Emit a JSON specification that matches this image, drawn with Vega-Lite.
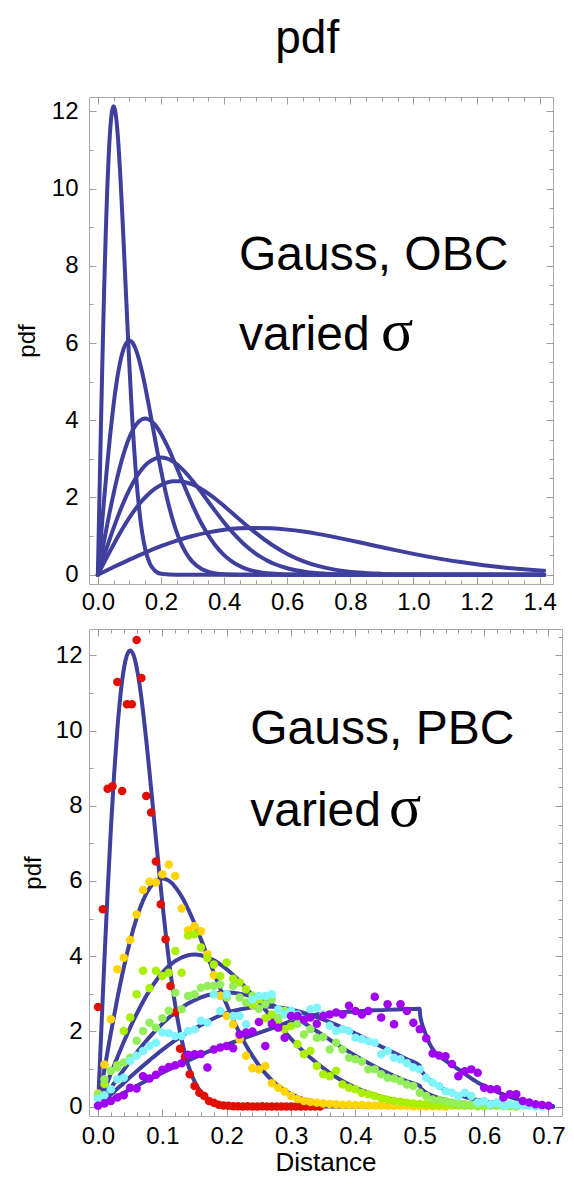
{
"$schema":"https://vega.github.io/schema/vega-lite/v6.json",
"background":"white",
"padding":{"left":14,"top":16,"right":0,"bottom":0},
"title":{"text":"pdf","fontSize":46,"font":"Liberation Sans","fontWeight":"normal","color":"#000000","anchor":"middle","offset":33,"dx":17},
"config":{
 "view":{"stroke":"#a9a9a9","strokeWidth":1},
 "axis":{"domain":false,"grid":false,"tickColor":"#9c9c9c","tickWidth":1,"labelFont":"Liberation Sans","labelFontSize":24,"labelColor":"#000000","titleFont":"Liberation Sans","titleFontSize":24,"titleFontWeight":"normal","titleColor":"#000000","labelOverlap":false,"labelFlush":false,"labelBound":false},
 "text":{"font":"Liberation Sans"}
},
"datasets":{
"obc":[
{"s":"a","x":0,"y":0},{"s":"a","x":0.005,"y":1.99},{"s":"a","x":0.01,"y":3.921},{"s":"a","x":0.015,"y":5.737},{"s":"a","x":0.02,"y":7.385},{"s":"a","x":0.025,"y":8.825},{"s":"a","x":0.03,"y":10.023},{"s":"a","x":0.035,"y":10.958},{"s":"a","x":0.04,"y":11.618},{"s":"a","x":0.045,"y":12.006},{"s":"a","x":0.05,"y":12.131},{"s":"a","x":0.055,"y":12.014},{"s":"a","x":0.06,"y":11.682},{"s":"a","x":0.065,"y":11.17},{"s":"a","x":0.07,"y":10.509},{"s":"a","x":0.075,"y":9.74},{"s":"a","x":0.08,"y":8.897},{"s":"a","x":0.085,"y":8.016},{"s":"a","x":0.09,"y":7.124},{"s":"a","x":0.095,"y":6.25},{"s":"a","x":0.1,"y":5.413},{"s":"a","x":0.105,"y":4.632},{"s":"a","x":0.11,"y":3.913},{"s":"a","x":0.115,"y":3.266},{"s":"a","x":0.12,"y":2.694},{"s":"a","x":0.125,"y":2.196},{"s":"a","x":0.13,"y":1.77},{"s":"a","x":0.14,"y":1.111},{"s":"a","x":0.15,"y":0.667},{"s":"a","x":0.165,"y":0.285},{"s":"a","x":0.18,"y":0.11},{"s":"a","x":0.2,"y":0.027},{"s":"a","x":0.25,"y":0},{"s":"a","x":1.414,"y":0},
{"s":"b","x":0,"y":0},{"s":"b","x":0.01,"y":0.995},{"s":"b","x":0.02,"y":1.96},{"s":"b","x":0.03,"y":2.869},{"s":"b","x":0.04,"y":3.693},{"s":"b","x":0.05,"y":4.412},{"s":"b","x":0.06,"y":5.012},{"s":"b","x":0.07,"y":5.48},{"s":"b","x":0.08,"y":5.809},{"s":"b","x":0.09,"y":6.0},{"s":"b","x":0.1,"y":6.065},{"s":"b","x":0.11,"y":6.007},{"s":"b","x":0.12,"y":5.841},{"s":"b","x":0.13,"y":5.585},{"s":"b","x":0.14,"y":5.254},{"s":"b","x":0.15,"y":4.87},{"s":"b","x":0.16,"y":4.449},{"s":"b","x":0.17,"y":4.008},{"s":"b","x":0.18,"y":3.562},{"s":"b","x":0.19,"y":3.125},{"s":"b","x":0.2,"y":2.707},{"s":"b","x":0.21,"y":2.316},{"s":"b","x":0.22,"y":1.956},{"s":"b","x":0.23,"y":1.633},{"s":"b","x":0.24,"y":1.347},{"s":"b","x":0.25,"y":1.098},{"s":"b","x":0.26,"y":0.883},{"s":"b","x":0.27,"y":0.705},{"s":"b","x":0.28,"y":0.556},{"s":"b","x":0.29,"y":0.433},{"s":"b","x":0.3,"y":0.333},{"s":"b","x":0.33,"y":0.143},{"s":"b","x":0.36,"y":0.055},{"s":"b","x":0.4,"y":0.013},{"s":"b","x":0.5,"y":0},{"s":"b","x":1.414,"y":0},
{"s":"c","x":0,"y":0},{"s":"c","x":0.02,"y":0.881},{"s":"c","x":0.04,"y":1.716},{"s":"c","x":0.06,"y":2.462},{"s":"c","x":0.08,"y":3.084},{"s":"c","x":0.1,"y":3.561},{"s":"c","x":0.12,"y":3.873},{"s":"c","x":0.14,"y":4.026},{"s":"c","x":0.15,"y":4.044},{"s":"c","x":0.16,"y":4.026},{"s":"c","x":0.18,"y":3.894},{"s":"c","x":0.2,"y":3.653},{"s":"c","x":0.22,"y":3.334},{"s":"c","x":0.24,"y":2.966},{"s":"c","x":0.26,"y":2.573},{"s":"c","x":0.28,"y":2.181},{"s":"c","x":0.3,"y":1.804},{"s":"c","x":0.32,"y":1.456},{"s":"c","x":0.34,"y":1.158},{"s":"c","x":0.36,"y":0.898},{"s":"c","x":0.38,"y":0.682},{"s":"c","x":0.4,"y":0.508},{"s":"c","x":0.42,"y":0.37},{"s":"c","x":0.44,"y":0.265},{"s":"c","x":0.46,"y":0.186},{"s":"c","x":0.48,"y":0.127},{"s":"c","x":0.5,"y":0.086},{"s":"c","x":0.55,"y":0.029},{"s":"c","x":0.6,"y":0.009},{"s":"c","x":0.7,"y":0},{"s":"c","x":1.414,"y":0},
{"s":"d","x":0,"y":0},{"s":"d","x":0.02,"y":0.498},{"s":"d","x":0.04,"y":0.98},{"s":"d","x":0.06,"y":1.434},{"s":"d","x":0.08,"y":1.846},{"s":"d","x":0.1,"y":2.206},{"s":"d","x":0.12,"y":2.506},{"s":"d","x":0.14,"y":2.739},{"s":"d","x":0.16,"y":2.905},{"s":"d","x":0.18,"y":3.001},{"s":"d","x":0.2,"y":3.033},{"s":"d","x":0.22,"y":3.004},{"s":"d","x":0.24,"y":2.921},{"s":"d","x":0.26,"y":2.793},{"s":"d","x":0.28,"y":2.627},{"s":"d","x":0.3,"y":2.435},{"s":"d","x":0.32,"y":2.224},{"s":"d","x":0.34,"y":2.004},{"s":"d","x":0.36,"y":1.781},{"s":"d","x":0.38,"y":1.562},{"s":"d","x":0.4,"y":1.353},{"s":"d","x":0.42,"y":1.157},{"s":"d","x":0.44,"y":0.978},{"s":"d","x":0.46,"y":0.817},{"s":"d","x":0.48,"y":0.674},{"s":"d","x":0.5,"y":0.549},{"s":"d","x":0.52,"y":0.443},{"s":"d","x":0.54,"y":0.353},{"s":"d","x":0.56,"y":0.278},{"s":"d","x":0.6,"y":0.167},{"s":"d","x":0.66,"y":0.071},{"s":"d","x":0.72,"y":0.028},{"s":"d","x":0.8,"y":0.007},{"s":"d","x":1.0,"y":0},{"s":"d","x":1.414,"y":0},
{"s":"e","x":0,"y":0},{"s":"e","x":0.02,"y":0.319},{"s":"e","x":0.04,"y":0.632},{"s":"e","x":0.06,"y":0.933},{"s":"e","x":0.08,"y":1.216},{"s":"e","x":0.1,"y":1.477},{"s":"e","x":0.12,"y":1.711},{"s":"e","x":0.14,"y":1.915},{"s":"e","x":0.16,"y":2.086},{"s":"e","x":0.18,"y":2.223},{"s":"e","x":0.2,"y":2.324},{"s":"e","x":0.22,"y":2.391},{"s":"e","x":0.24,"y":2.423},{"s":"e","x":0.26,"y":2.421},{"s":"e","x":0.28,"y":2.388},{"s":"e","x":0.3,"y":2.337},{"s":"e","x":0.32,"y":2.257},{"s":"e","x":0.34,"y":2.156},{"s":"e","x":0.36,"y":2.042},{"s":"e","x":0.38,"y":1.915},{"s":"e","x":0.4,"y":1.779},{"s":"e","x":0.42,"y":1.637},{"s":"e","x":0.44,"y":1.493},{"s":"e","x":0.46,"y":1.352},{"s":"e","x":0.48,"y":1.215},{"s":"e","x":0.5,"y":1.083},{"s":"e","x":0.55,"y":0.783},{"s":"e","x":0.6,"y":0.539},{"s":"e","x":0.65,"y":0.354},{"s":"e","x":0.7,"y":0.222},{"s":"e","x":0.75,"y":0.133},{"s":"e","x":0.825,"y":0.057},{"s":"e","x":0.9,"y":0.022},{"s":"e","x":1.0,"y":0.005},{"s":"e","x":1.25,"y":0},{"s":"e","x":1.414,"y":0},
{"s":"f","x":0,"y":0},{"s":"f","x":0.05,"y":0.199},{"s":"f","x":0.1,"y":0.392},{"s":"f","x":0.15,"y":0.574},{"s":"f","x":0.2,"y":0.738},{"s":"f","x":0.25,"y":0.883},{"s":"f","x":0.3,"y":1.002},{"s":"f","x":0.35,"y":1.096},{"s":"f","x":0.4,"y":1.162},{"s":"f","x":0.45,"y":1.201},{"s":"f","x":0.5,"y":1.213},{"s":"f","x":0.55,"y":1.201},{"s":"f","x":0.6,"y":1.168},{"s":"f","x":0.65,"y":1.117},{"s":"f","x":0.7,"y":1.051},{"s":"f","x":0.75,"y":0.974},{"s":"f","x":0.8,"y":0.89},{"s":"f","x":0.85,"y":0.801},{"s":"f","x":0.9,"y":0.712},{"s":"f","x":0.95,"y":0.625},{"s":"f","x":1.0,"y":0.541},{"s":"f","x":1.05,"y":0.463},{"s":"f","x":1.1,"y":0.391},{"s":"f","x":1.15,"y":0.327},{"s":"f","x":1.2,"y":0.269},{"s":"f","x":1.25,"y":0.22},{"s":"f","x":1.3,"y":0.177},{"s":"f","x":1.35,"y":0.141},{"s":"f","x":1.4,"y":0.111},{"s":"f","x":1.414,"y":0.104}
],
"pbc":[
{"s":"a","x":0,"y":0},{"s":"a","x":0.005,"y":1.99},{"s":"a","x":0.01,"y":3.921},{"s":"a","x":0.015,"y":5.737},{"s":"a","x":0.02,"y":7.385},{"s":"a","x":0.025,"y":8.825},{"s":"a","x":0.03,"y":10.023},{"s":"a","x":0.035,"y":10.958},{"s":"a","x":0.04,"y":11.618},{"s":"a","x":0.045,"y":12.006},{"s":"a","x":0.05,"y":12.131},{"s":"a","x":0.055,"y":12.014},{"s":"a","x":0.06,"y":11.682},{"s":"a","x":0.065,"y":11.17},{"s":"a","x":0.07,"y":10.509},{"s":"a","x":0.075,"y":9.74},{"s":"a","x":0.08,"y":8.897},{"s":"a","x":0.085,"y":8.016},{"s":"a","x":0.09,"y":7.124},{"s":"a","x":0.095,"y":6.25},{"s":"a","x":0.1,"y":5.413},{"s":"a","x":0.105,"y":4.632},{"s":"a","x":0.11,"y":3.913},{"s":"a","x":0.115,"y":3.266},{"s":"a","x":0.12,"y":2.694},{"s":"a","x":0.125,"y":2.196},{"s":"a","x":0.13,"y":1.77},{"s":"a","x":0.14,"y":1.111},{"s":"a","x":0.15,"y":0.667},{"s":"a","x":0.165,"y":0.285},{"s":"a","x":0.18,"y":0.11},{"s":"a","x":0.2,"y":0.027},{"s":"a","x":0.25,"y":0},{"s":"a","x":0.707,"y":0},
{"s":"b","x":0,"y":0},{"s":"b","x":0.01,"y":0.995},{"s":"b","x":0.02,"y":1.96},{"s":"b","x":0.03,"y":2.869},{"s":"b","x":0.04,"y":3.693},{"s":"b","x":0.05,"y":4.412},{"s":"b","x":0.06,"y":5.012},{"s":"b","x":0.07,"y":5.48},{"s":"b","x":0.08,"y":5.809},{"s":"b","x":0.09,"y":6.0},{"s":"b","x":0.1,"y":6.065},{"s":"b","x":0.11,"y":6.007},{"s":"b","x":0.12,"y":5.841},{"s":"b","x":0.13,"y":5.585},{"s":"b","x":0.14,"y":5.254},{"s":"b","x":0.15,"y":4.87},{"s":"b","x":0.16,"y":4.449},{"s":"b","x":0.17,"y":4.008},{"s":"b","x":0.18,"y":3.562},{"s":"b","x":0.19,"y":3.125},{"s":"b","x":0.2,"y":2.707},{"s":"b","x":0.21,"y":2.316},{"s":"b","x":0.22,"y":1.956},{"s":"b","x":0.23,"y":1.633},{"s":"b","x":0.24,"y":1.347},{"s":"b","x":0.25,"y":1.098},{"s":"b","x":0.26,"y":0.883},{"s":"b","x":0.27,"y":0.705},{"s":"b","x":0.28,"y":0.556},{"s":"b","x":0.29,"y":0.433},{"s":"b","x":0.3,"y":0.333},{"s":"b","x":0.33,"y":0.143},{"s":"b","x":0.36,"y":0.055},{"s":"b","x":0.4,"y":0.013},{"s":"b","x":0.5,"y":0},{"s":"b","x":0.707,"y":0},
{"s":"c","x":0,"y":0},{"s":"c","x":0.02,"y":0.881},{"s":"c","x":0.04,"y":1.716},{"s":"c","x":0.06,"y":2.462},{"s":"c","x":0.08,"y":3.084},{"s":"c","x":0.1,"y":3.561},{"s":"c","x":0.12,"y":3.873},{"s":"c","x":0.14,"y":4.026},{"s":"c","x":0.15,"y":4.044},{"s":"c","x":0.16,"y":4.026},{"s":"c","x":0.18,"y":3.894},{"s":"c","x":0.2,"y":3.653},{"s":"c","x":0.22,"y":3.334},{"s":"c","x":0.24,"y":2.966},{"s":"c","x":0.26,"y":2.573},{"s":"c","x":0.28,"y":2.181},{"s":"c","x":0.3,"y":1.804},{"s":"c","x":0.32,"y":1.456},{"s":"c","x":0.34,"y":1.158},{"s":"c","x":0.36,"y":0.898},{"s":"c","x":0.38,"y":0.682},{"s":"c","x":0.4,"y":0.508},{"s":"c","x":0.42,"y":0.37},{"s":"c","x":0.44,"y":0.265},{"s":"c","x":0.46,"y":0.186},{"s":"c","x":0.48,"y":0.127},{"s":"c","x":0.5,"y":0.086},{"s":"c","x":0.55,"y":0.029},{"s":"c","x":0.6,"y":0.009},{"s":"c","x":0.707,"y":0},
{"s":"d","x":0,"y":0},{"s":"d","x":0.02,"y":0.498},{"s":"d","x":0.04,"y":0.98},{"s":"d","x":0.06,"y":1.434},{"s":"d","x":0.08,"y":1.846},{"s":"d","x":0.1,"y":2.206},{"s":"d","x":0.12,"y":2.506},{"s":"d","x":0.14,"y":2.739},{"s":"d","x":0.16,"y":2.905},{"s":"d","x":0.18,"y":3.001},{"s":"d","x":0.2,"y":3.033},{"s":"d","x":0.22,"y":3.004},{"s":"d","x":0.24,"y":2.921},{"s":"d","x":0.26,"y":2.793},{"s":"d","x":0.28,"y":2.627},{"s":"d","x":0.3,"y":2.435},{"s":"d","x":0.32,"y":2.224},{"s":"d","x":0.34,"y":2.004},{"s":"d","x":0.36,"y":1.781},{"s":"d","x":0.38,"y":1.562},{"s":"d","x":0.4,"y":1.353},{"s":"d","x":0.42,"y":1.157},{"s":"d","x":0.44,"y":0.978},{"s":"d","x":0.46,"y":0.817},{"s":"d","x":0.48,"y":0.674},{"s":"d","x":0.5,"y":0.549},{"s":"d","x":0.502,"y":0.479},{"s":"d","x":0.505,"y":0.435},{"s":"d","x":0.51,"y":0.369},{"s":"d","x":0.52,"y":0.286},{"s":"d","x":0.53,"y":0.225},{"s":"d","x":0.54,"y":0.178},{"s":"d","x":0.56,"y":0.113},{"s":"d","x":0.58,"y":0.07},{"s":"d","x":0.6,"y":0.042},{"s":"d","x":0.64,"y":0.014},{"s":"d","x":0.68,"y":0.003},{"s":"d","x":0.707,"y":0},
{"s":"e","x":0,"y":0},{"s":"e","x":0.02,"y":0.32},{"s":"e","x":0.04,"y":0.63},{"s":"e","x":0.06,"y":0.94},{"s":"e","x":0.08,"y":1.23},{"s":"e","x":0.1,"y":1.51},{"s":"e","x":0.12,"y":1.76},{"s":"e","x":0.14,"y":1.98},{"s":"e","x":0.16,"y":2.17},{"s":"e","x":0.18,"y":2.35},{"s":"e","x":0.2,"y":2.49},{"s":"e","x":0.22,"y":2.58},{"s":"e","x":0.24,"y":2.64},{"s":"e","x":0.26,"y":2.66},{"s":"e","x":0.28,"y":2.64},{"s":"e","x":0.3,"y":2.58},{"s":"e","x":0.32,"y":2.49},{"s":"e","x":0.34,"y":2.38},{"s":"e","x":0.36,"y":2.25},{"s":"e","x":0.38,"y":2.1},{"s":"e","x":0.4,"y":1.94},{"s":"e","x":0.42,"y":1.77},{"s":"e","x":0.44,"y":1.6},{"s":"e","x":0.46,"y":1.43},{"s":"e","x":0.48,"y":1.26},{"s":"e","x":0.5,"y":1.09},{"s":"e","x":0.502,"y":0.965},{"s":"e","x":0.505,"y":0.895},{"s":"e","x":0.51,"y":0.79},{"s":"e","x":0.52,"y":0.64},{"s":"e","x":0.53,"y":0.53},{"s":"e","x":0.54,"y":0.44},{"s":"e","x":0.55,"y":0.37},{"s":"e","x":0.56,"y":0.31},{"s":"e","x":0.58,"y":0.21},{"s":"e","x":0.6,"y":0.145},{"s":"e","x":0.62,"y":0.093},{"s":"e","x":0.64,"y":0.057},{"s":"e","x":0.66,"y":0.031},{"s":"e","x":0.68,"y":0.014},{"s":"e","x":0.707,"y":0},
{"s":"f","x":0,"y":0},{"s":"f","x":0.035,"y":0.32},{"s":"f","x":0.07,"y":0.64},{"s":"f","x":0.1,"y":0.9},{"s":"f","x":0.122,"y":1.08},{"s":"f","x":0.15,"y":1.3},{"s":"f","x":0.174,"y":1.48},{"s":"f","x":0.2,"y":1.65},{"s":"f","x":0.216,"y":1.75},{"s":"f","x":0.24,"y":1.9},{"s":"f","x":0.27,"y":2.08},{"s":"f","x":0.3,"y":2.27},{"s":"f","x":0.322,"y":2.38},{"s":"f","x":0.345,"y":2.46},{"s":"f","x":0.37,"y":2.5},{"s":"f","x":0.4,"y":2.53},{"s":"f","x":0.43,"y":2.56},{"s":"f","x":0.46,"y":2.58},{"s":"f","x":0.5,"y":2.6},{"s":"f","x":0.5005,"y":2.45},{"s":"f","x":0.502,"y":2.3},{"s":"f","x":0.505,"y":2.12},{"s":"f","x":0.508,"y":1.98},{"s":"f","x":0.512,"y":1.8},{"s":"f","x":0.516,"y":1.65},{"s":"f","x":0.523,"y":1.46},{"s":"f","x":0.53,"y":1.35},{"s":"f","x":0.54,"y":1.22},{"s":"f","x":0.555,"y":1.05},{"s":"f","x":0.57,"y":0.87},{"s":"f","x":0.59,"y":0.64},{"s":"f","x":0.617,"y":0.42},{"s":"f","x":0.643,"y":0.24},{"s":"f","x":0.669,"y":0.11},{"s":"f","x":0.695,"y":0.02},{"s":"f","x":0.707,"y":0}
],
"dots":[
{"c":"r","x":0,"y":2.65},{"c":"r","x":0.0075,"y":5.25},{"c":"r","x":0.015,"y":8.45},{"c":"r","x":0.0225,"y":8.52},{"c":"r","x":0.03,"y":11.29},{"c":"r","x":0.0375,"y":8.39},{"c":"r","x":0.045,"y":10.7},{"c":"r","x":0.0525,"y":10.7},{"c":"r","x":0.06,"y":12.41},{"c":"r","x":0.0675,"y":11.4},{"c":"r","x":0.075,"y":8.26},{"c":"r","x":0.0825,"y":7.82},{"c":"r","x":0.09,"y":6.52},{"c":"r","x":0.0975,"y":5.38},{"c":"r","x":0.105,"y":4.45},{"c":"r","x":0.1125,"y":3.21},{"c":"r","x":0.12,"y":2.5},{"c":"r","x":0.1275,"y":1.54},{"c":"r","x":0.135,"y":1.33},{"c":"r","x":0.1425,"y":0.86},{"c":"r","x":0.15,"y":0.55},{"c":"r","x":0.1575,"y":0.37},{"c":"r","x":0.165,"y":0.28},{"c":"r","x":0.1725,"y":0.15},{"c":"r","x":0.18,"y":0.1},{"c":"r","x":0.1875,"y":0.05},{"c":"r","x":0.195,"y":0.03},{"c":"r","x":0.2025,"y":0.02},{"c":"r","x":0.21,"y":0.01},{"c":"r","x":0.2175,"y":0.01},{"c":"r","x":0.225,"y":0},{"c":"r","x":0.2325,"y":0.01},{"c":"r","x":0.24,"y":0},{"c":"r","x":0.2475,"y":0},{"c":"r","x":0.255,"y":0.01},{"c":"r","x":0.2625,"y":0},{"c":"r","x":0.27,"y":0},{"c":"r","x":0.2775,"y":0},{"c":"r","x":0.285,"y":0},{"c":"r","x":0.2925,"y":0},{"c":"r","x":0.3,"y":0},{"c":"r","x":0.3075,"y":0},{"c":"r","x":0.315,"y":0},{"c":"r","x":0.3225,"y":0},{"c":"r","x":0.33,"y":0},{"c":"r","x":0.3375,"y":0},{"c":"r","x":0.345,"y":0},
{"c":"y","x":0,"y":0.35},{"c":"y","x":0.01,"y":1.12},{"c":"y","x":0.02,"y":2.32},{"c":"y","x":0.03,"y":3.65},{"c":"y","x":0.04,"y":3.96},{"c":"y","x":0.05,"y":4.43},{"c":"y","x":0.06,"y":5.11},{"c":"y","x":0.07,"y":5.76},{"c":"y","x":0.08,"y":5.98},{"c":"y","x":0.09,"y":5.96},{"c":"y","x":0.1,"y":6.18},{"c":"y","x":0.11,"y":6.44},{"c":"y","x":0.12,"y":6.13},{"c":"y","x":0.13,"y":5.27},{"c":"y","x":0.14,"y":4.69},{"c":"y","x":0.15,"y":4.8},{"c":"y","x":0.16,"y":4.66},{"c":"y","x":0.17,"y":4.05},{"c":"y","x":0.18,"y":3.5},{"c":"y","x":0.19,"y":2.95},{"c":"y","x":0.2,"y":2.41},{"c":"y","x":0.21,"y":2.19},{"c":"y","x":0.22,"y":1.79},{"c":"y","x":0.23,"y":1.35},{"c":"y","x":0.24,"y":1.02},{"c":"y","x":0.25,"y":0.99},{"c":"y","x":0.26,"y":1.08},{"c":"y","x":0.27,"y":0.62},{"c":"y","x":0.28,"y":0.5},{"c":"y","x":0.29,"y":0.4},{"c":"y","x":0.3,"y":0.28},{"c":"y","x":0.31,"y":0.2},{"c":"y","x":0.32,"y":0.15},{"c":"y","x":0.33,"y":0.12},{"c":"y","x":0.34,"y":0.1},{"c":"y","x":0.35,"y":0.08},{"c":"y","x":0.36,"y":0.07},{"c":"y","x":0.37,"y":0.06},{"c":"y","x":0.38,"y":0.05},{"c":"y","x":0.39,"y":0.05},{"c":"y","x":0.4,"y":0.04},{"c":"y","x":0.41,"y":0.04},{"c":"y","x":0.42,"y":0.03},{"c":"y","x":0.43,"y":0.03},{"c":"y","x":0.44,"y":0.03},{"c":"y","x":0.45,"y":0.02},{"c":"y","x":0.46,"y":0.02},{"c":"y","x":0.47,"y":0.02},{"c":"y","x":0.48,"y":0.02},{"c":"y","x":0.49,"y":0.01},{"c":"y","x":0.5,"y":0.01},{"c":"y","x":0.51,"y":0.01},{"c":"y","x":0.52,"y":0.01},{"c":"y","x":0.53,"y":0.01},{"c":"y","x":0.54,"y":0},
{"c":"yg","x":0,"y":0.3},{"c":"yg","x":0.01,"y":0.6},{"c":"yg","x":0.02,"y":0.95},{"c":"yg","x":0.03,"y":1.1},{"c":"yg","x":0.04,"y":2.01},{"c":"yg","x":0.05,"y":2.37},{"c":"yg","x":0.06,"y":2.99},{"c":"yg","x":0.07,"y":3.61},{"c":"yg","x":0.08,"y":3.15},{"c":"yg","x":0.09,"y":3.61},{"c":"yg","x":0.1,"y":3.47},{"c":"yg","x":0.11,"y":3.56},{"c":"yg","x":0.12,"y":4.14},{"c":"yg","x":0.13,"y":3.56},{"c":"yg","x":0.14,"y":4.55},{"c":"yg","x":0.15,"y":4.58},{"c":"yg","x":0.16,"y":4.23},{"c":"yg","x":0.17,"y":3.95},{"c":"yg","x":0.18,"y":3.78},{"c":"yg","x":0.19,"y":3.47},{"c":"yg","x":0.2,"y":3.83},{"c":"yg","x":0.21,"y":3.4},{"c":"yg","x":0.22,"y":3.3},{"c":"yg","x":0.23,"y":3.12},{"c":"yg","x":0.24,"y":2.7},{"c":"yg","x":0.25,"y":2.85},{"c":"yg","x":0.26,"y":2.35},{"c":"yg","x":0.27,"y":2.45},{"c":"yg","x":0.28,"y":2.3},{"c":"yg","x":0.29,"y":2.06},{"c":"yg","x":0.3,"y":2.14},{"c":"yg","x":0.31,"y":1.66},{"c":"yg","x":0.32,"y":1.39},{"c":"yg","x":0.33,"y":1.48},{"c":"yg","x":0.34,"y":1.08},{"c":"yg","x":0.35,"y":0.86},{"c":"yg","x":0.36,"y":0.81},{"c":"yg","x":0.37,"y":0.95},{"c":"yg","x":0.38,"y":0.59},{"c":"yg","x":0.39,"y":0.5},{"c":"yg","x":0.4,"y":0.46},{"c":"yg","x":0.41,"y":0.37},{"c":"yg","x":0.42,"y":0.33},{"c":"yg","x":0.43,"y":0.28},{"c":"yg","x":0.44,"y":0.22},{"c":"yg","x":0.45,"y":0.18},{"c":"yg","x":0.46,"y":0.15},{"c":"yg","x":0.47,"y":0.13},{"c":"yg","x":0.48,"y":0.1},{"c":"yg","x":0.49,"y":0.08},{"c":"yg","x":0.5,"y":0.07},{"c":"yg","x":0.51,"y":0.06},{"c":"yg","x":0.52,"y":0.05},{"c":"yg","x":0.53,"y":0.04},{"c":"yg","x":0.54,"y":0.04},{"c":"yg","x":0.55,"y":0.03},{"c":"yg","x":0.56,"y":0.03},{"c":"yg","x":0.57,"y":0.02},{"c":"yg","x":0.58,"y":0.02},{"c":"yg","x":0.59,"y":0.01},{"c":"yg","x":0.6,"y":0.01},
{"c":"g","x":0,"y":0.33},{"c":"g","x":0.01,"y":0.73},{"c":"g","x":0.02,"y":0.95},{"c":"g","x":0.03,"y":1.04},{"c":"g","x":0.04,"y":1.17},{"c":"g","x":0.05,"y":1.3},{"c":"g","x":0.06,"y":1.75},{"c":"g","x":0.07,"y":2.01},{"c":"g","x":0.08,"y":2.23},{"c":"g","x":0.09,"y":2.1},{"c":"g","x":0.1,"y":2.35},{"c":"g","x":0.11,"y":2.55},{"c":"g","x":0.12,"y":3.03},{"c":"g","x":0.13,"y":2.59},{"c":"g","x":0.14,"y":2.94},{"c":"g","x":0.15,"y":2.99},{"c":"g","x":0.16,"y":3.16},{"c":"g","x":0.17,"y":3.21},{"c":"g","x":0.18,"y":3.21},{"c":"g","x":0.19,"y":3.25},{"c":"g","x":0.2,"y":2.9},{"c":"g","x":0.21,"y":3.21},{"c":"g","x":0.22,"y":2.9},{"c":"g","x":0.23,"y":2.77},{"c":"g","x":0.24,"y":2.95},{"c":"g","x":0.25,"y":2.6},{"c":"g","x":0.26,"y":2.72},{"c":"g","x":0.27,"y":2.85},{"c":"g","x":0.28,"y":2.37},{"c":"g","x":0.29,"y":2.55},{"c":"g","x":0.3,"y":2.4},{"c":"g","x":0.31,"y":2.2},{"c":"g","x":0.32,"y":1.92},{"c":"g","x":0.33,"y":2.06},{"c":"g","x":0.34,"y":1.83},{"c":"g","x":0.35,"y":1.85},{"c":"g","x":0.36,"y":1.52},{"c":"g","x":0.37,"y":1.7},{"c":"g","x":0.38,"y":1.52},{"c":"g","x":0.39,"y":1.3},{"c":"g","x":0.4,"y":1.26},{"c":"g","x":0.41,"y":1.2},{"c":"g","x":0.42,"y":0.99},{"c":"g","x":0.43,"y":0.99},{"c":"g","x":0.44,"y":0.86},{"c":"g","x":0.45,"y":0.77},{"c":"g","x":0.46,"y":0.75},{"c":"g","x":0.47,"y":0.68},{"c":"g","x":0.48,"y":0.59},{"c":"g","x":0.49,"y":0.55},{"c":"g","x":0.5,"y":0.37},{"c":"g","x":0.51,"y":0.28},{"c":"g","x":0.52,"y":0.19},{"c":"g","x":0.53,"y":0.17},{"c":"g","x":0.54,"y":0.15},{"c":"g","x":0.55,"y":0.11},{"c":"g","x":0.56,"y":0.08},{"c":"g","x":0.57,"y":0.06},{"c":"g","x":0.58,"y":0.05},{"c":"g","x":0.59,"y":0.04},{"c":"g","x":0.6,"y":0.03},{"c":"g","x":0.61,"y":0.02},{"c":"g","x":0.62,"y":0.02},{"c":"g","x":0.63,"y":0.01},{"c":"g","x":0.64,"y":0.01},{"c":"g","x":0.65,"y":0},
{"c":"cy","x":0,"y":0.2},{"c":"cy","x":0.01,"y":0.3},{"c":"cy","x":0.02,"y":0.46},{"c":"cy","x":0.03,"y":0.73},{"c":"cy","x":0.04,"y":0.77},{"c":"cy","x":0.05,"y":1.21},{"c":"cy","x":0.06,"y":1.35},{"c":"cy","x":0.07,"y":1.48},{"c":"cy","x":0.08,"y":1.61},{"c":"cy","x":0.09,"y":1.7},{"c":"cy","x":0.1,"y":1.97},{"c":"cy","x":0.11,"y":1.95},{"c":"cy","x":0.12,"y":1.88},{"c":"cy","x":0.13,"y":1.88},{"c":"cy","x":0.14,"y":2.01},{"c":"cy","x":0.15,"y":2.05},{"c":"cy","x":0.16,"y":2.28},{"c":"cy","x":0.17,"y":2.23},{"c":"cy","x":0.18,"y":2.99},{"c":"cy","x":0.19,"y":2.54},{"c":"cy","x":0.2,"y":2.99},{"c":"cy","x":0.21,"y":2.41},{"c":"cy","x":0.22,"y":2.41},{"c":"cy","x":0.23,"y":2.19},{"c":"cy","x":0.24,"y":2.85},{"c":"cy","x":0.25,"y":2.94},{"c":"cy","x":0.26,"y":2.94},{"c":"cy","x":0.27,"y":2.99},{"c":"cy","x":0.28,"y":2.59},{"c":"cy","x":0.29,"y":2.45},{"c":"cy","x":0.3,"y":2.55},{"c":"cy","x":0.31,"y":2.45},{"c":"cy","x":0.32,"y":2.3},{"c":"cy","x":0.33,"y":2.59},{"c":"cy","x":0.34,"y":2.63},{"c":"cy","x":0.35,"y":2.45},{"c":"cy","x":0.36,"y":2.15},{"c":"cy","x":0.37,"y":2.01},{"c":"cy","x":0.38,"y":2.06},{"c":"cy","x":0.39,"y":2.01},{"c":"cy","x":0.4,"y":1.83},{"c":"cy","x":0.41,"y":1.79},{"c":"cy","x":0.42,"y":1.74},{"c":"cy","x":0.43,"y":1.7},{"c":"cy","x":0.44,"y":1.39},{"c":"cy","x":0.45,"y":1.48},{"c":"cy","x":0.46,"y":1.3},{"c":"cy","x":0.47,"y":1.26},{"c":"cy","x":0.48,"y":1.15},{"c":"cy","x":0.49,"y":1.04},{"c":"cy","x":0.5,"y":0.99},{"c":"cy","x":0.51,"y":0.77},{"c":"cy","x":0.52,"y":0.64},{"c":"cy","x":0.53,"y":0.55},{"c":"cy","x":0.54,"y":0.41},{"c":"cy","x":0.55,"y":0.37},{"c":"cy","x":0.56,"y":0.28},{"c":"cy","x":0.57,"y":0.37},{"c":"cy","x":0.58,"y":0.28},{"c":"cy","x":0.59,"y":0.11},{"c":"cy","x":0.6,"y":0.15},{"c":"cy","x":0.61,"y":0.06},{"c":"cy","x":0.62,"y":0.11},{"c":"cy","x":0.63,"y":0.02},{"c":"cy","x":0.64,"y":0.06},{"c":"cy","x":0.65,"y":0.04},{"c":"cy","x":0.66,"y":0.03},{"c":"cy","x":0.67,"y":0.02},{"c":"cy","x":0.68,"y":0.01},{"c":"cy","x":0.69,"y":0},
{"c":"p","x":0,"y":0.02},{"c":"p","x":0.01,"y":0.08},{"c":"p","x":0.02,"y":0.15},{"c":"p","x":0.03,"y":0.24},{"c":"p","x":0.04,"y":0.3},{"c":"p","x":0.05,"y":0.5},{"c":"p","x":0.06,"y":0.48},{"c":"p","x":0.07,"y":0.81},{"c":"p","x":0.08,"y":0.75},{"c":"p","x":0.09,"y":0.85},{"c":"p","x":0.1,"y":0.98},{"c":"p","x":0.11,"y":1.05},{"c":"p","x":0.12,"y":1.1},{"c":"p","x":0.13,"y":1.15},{"c":"p","x":0.14,"y":1.38},{"c":"p","x":0.15,"y":1.39},{"c":"p","x":0.16,"y":1.4},{"c":"p","x":0.17,"y":1.04},{"c":"p","x":0.18,"y":1.52},{"c":"p","x":0.19,"y":1.57},{"c":"p","x":0.2,"y":1.61},{"c":"p","x":0.21,"y":1.55},{"c":"p","x":0.22,"y":1.92},{"c":"p","x":0.23,"y":1.97},{"c":"p","x":0.24,"y":2.0},{"c":"p","x":0.25,"y":2.25},{"c":"p","x":0.26,"y":1.61},{"c":"p","x":0.27,"y":2.2},{"c":"p","x":0.28,"y":2.1},{"c":"p","x":0.29,"y":1.83},{"c":"p","x":0.3,"y":2.41},{"c":"p","x":0.31,"y":2.41},{"c":"p","x":0.32,"y":2.3},{"c":"p","x":0.33,"y":2.37},{"c":"p","x":0.34,"y":2.2},{"c":"p","x":0.35,"y":2.41},{"c":"p","x":0.36,"y":2.45},{"c":"p","x":0.37,"y":2.5},{"c":"p","x":0.38,"y":2.45},{"c":"p","x":0.39,"y":2.68},{"c":"p","x":0.4,"y":2.54},{"c":"p","x":0.41,"y":2.45},{"c":"p","x":0.42,"y":2.54},{"c":"p","x":0.43,"y":2.92},{"c":"p","x":0.44,"y":2.37},{"c":"p","x":0.45,"y":2.72},{"c":"p","x":0.46,"y":2.19},{"c":"p","x":0.47,"y":2.72},{"c":"p","x":0.48,"y":2.54},{"c":"p","x":0.49,"y":2.23},{"c":"p","x":0.5,"y":2.06},{"c":"p","x":0.51,"y":1.82},{"c":"p","x":0.52,"y":1.41},{"c":"p","x":0.53,"y":1.36},{"c":"p","x":0.54,"y":1.34},{"c":"p","x":0.55,"y":1.13},{"c":"p","x":0.56,"y":0.81},{"c":"p","x":0.57,"y":0.94},{"c":"p","x":0.58,"y":0.99},{"c":"p","x":0.59,"y":0.9},{"c":"p","x":0.6,"y":0.5},{"c":"p","x":0.61,"y":0.46},{"c":"p","x":0.62,"y":0.46},{"c":"p","x":0.63,"y":0.24},{"c":"p","x":0.64,"y":0.33},{"c":"p","x":0.65,"y":0.33},{"c":"p","x":0.66,"y":0.15},{"c":"p","x":0.67,"y":0.11},{"c":"p","x":0.68,"y":0.06},{"c":"p","x":0.69,"y":0.04},{"c":"p","x":0.7,"y":0.02}
]
},
"concat":[
{
 "width":464,"height":487,
 "layer":[
  {"data":{"name":"obc"},
   "mark":{"type":"line","color":"#3f3f9d","strokeWidth":4,"interpolate":"monotone","strokeCap":"round","strokeJoin":"round"},
   "encoding":{
    "x":{"field":"x","type":"quantitative","scale":{"domain":[-0.028,1.442],"nice":false,"zero":false},
     "axis":{"orient":"bottom","title":null,"values":[0,0.05,0.1,0.15,0.2,0.25,0.3,0.35,0.4,0.45,0.5,0.55,0.6,0.65,0.7,0.75,0.8,0.85,0.9,0.95,1,1.05,1.1,1.15,1.2,1.25,1.3,1.35,1.4],"format":".1f",
      "labelExpr":"abs(datum.value*5-round(datum.value*5))<0.001 ? datum.label : ''",
      "tickSize":{"condition":{"test":"abs(datum.value*5-round(datum.value*5))<0.001","value":-7},"value":-4},
      "labelPadding":13}},
    "y":{"field":"y","type":"quantitative","scale":{"domain":[-0.24,12.37],"nice":false,"zero":false},
     "axis":{"orient":"left","title":"pdf","values":[0,0.5,1,1.5,2,2.5,3,3.5,4,4.5,5,5.5,6,6.5,7,7.5,8,8.5,9,9.5,10,10.5,11,11.5,12],"format":"d",
      "labelExpr":"abs(datum.value/2-round(datum.value/2))<0.001 ? datum.label : ''",
      "tickSize":{"condition":{"test":"abs(datum.value/2-round(datum.value/2))<0.001","value":-7},"value":-4},
      "labelPadding":18,"titlePadding":12}},
    "detail":{"field":"s","type":"nominal"}}},
  {"data":{"values":[{"x":0,"y":0}]},
   "mark":{"type":"point","opacity":0},
   "encoding":{
    "x":{"field":"x","type":"quantitative","axis":{"orient":"top","title":null,"labels":false,"values":[0,0.05,0.1,0.15,0.2,0.25,0.3,0.35,0.4,0.45,0.5,0.55,0.6,0.65,0.7,0.75,0.8,0.85,0.9,0.95,1,1.05,1.1,1.15,1.2,1.25,1.3,1.35,1.4],
      "tickSize":{"condition":{"test":"abs(datum.value*5-round(datum.value*5))<0.001","value":-7},"value":-4}}},
    "y":{"field":"y","type":"quantitative","axis":{"orient":"right","title":null,"labels":false,"values":[0,0.5,1,1.5,2,2.5,3,3.5,4,4.5,5,5.5,6,6.5,7,7.5,8,8.5,9,9.5,10,10.5,11,11.5,12],
      "tickSize":{"condition":{"test":"abs(datum.value/2-round(datum.value/2))<0.001","value":-7},"value":-4}}}}},
  {"data":{"values":[{}]},"mark":{"type":"text","align":"left","baseline":"alphabetic","fontSize":48,"font":"Liberation Sans","color":"#000000"},
   "encoding":{"x":{"datum":0.447,"type":"quantitative","axis":null},"y":{"datum":7.9,"type":"quantitative","axis":null},"text":{"value":"Gauss, OBC"}}},
  {"data":{"values":[{}]},"mark":{"type":"text","align":"left","baseline":"alphabetic","fontSize":48,"font":"Liberation Sans","color":"#000000"},
   "encoding":{"x":{"datum":0.447,"type":"quantitative","axis":null},"y":{"datum":5.82,"type":"quantitative","axis":null},"text":{"value":"varied"}}},
  {"data":{"values":[{}]},"mark":{"type":"text","align":"left","baseline":"alphabetic","fontSize":60,"font":"Liberation Serif","color":"#000000"},
   "encoding":{"x":{"datum":0.897,"type":"quantitative","axis":null},"y":{"datum":5.82,"type":"quantitative","axis":null},"text":{"value":"σ"}}}
 ],
 "resolve":{"axis":{"x":"independent","y":"independent"}}
},
{
 "width":473,"height":487,
 "layer":[
  {"data":{"name":"pbc"},
   "mark":{"type":"line","color":"#3f3f9d","strokeWidth":4,"interpolate":"monotone","strokeCap":"round","strokeJoin":"round"},
   "encoding":{
    "x":{"field":"x","type":"quantitative","scale":{"domain":[-0.014,0.721],"nice":false,"zero":false},
     "axis":{"orient":"bottom","title":"Distance","titleFontSize":26,"titlePadding":-2,"values":[0,0.02,0.04,0.06,0.08,0.1,0.12,0.14,0.16,0.18,0.2,0.22,0.24,0.26,0.28,0.3,0.32,0.34,0.36,0.38,0.4,0.42,0.44,0.46,0.48,0.5,0.52,0.54,0.56,0.58,0.6,0.62,0.64,0.66,0.68,0.7],"format":".1f",
      "labelExpr":"abs(datum.value*10-round(datum.value*10))<0.001 ? datum.label : ''",
      "tickSize":{"condition":{"test":"abs(datum.value*10-round(datum.value*10))<0.001","value":-7},"value":-4},
      "labelPadding":15}},
    "y":{"field":"y","type":"quantitative","scale":{"domain":[-0.25,12.7],"nice":false,"zero":false},
     "axis":{"orient":"left","title":"pdf","values":[0,0.5,1,1.5,2,2.5,3,3.5,4,4.5,5,5.5,6,6.5,7,7.5,8,8.5,9,9.5,10,10.5,11,11.5,12,12.5],"format":"d",
      "labelExpr":"abs(datum.value/2-round(datum.value/2))<0.001 ? datum.label : ''",
      "tickSize":{"condition":{"test":"abs(datum.value/2-round(datum.value/2))<0.001","value":-7},"value":-4},
      "labelPadding":14,"titlePadding":10}},
    "detail":{"field":"s","type":"nominal"}}},
  {"data":{"name":"dots"},
   "mark":{"type":"point","filled":true,"opacity":1,"size":72,"strokeWidth":0},
   "encoding":{
    "x":{"field":"x","type":"quantitative","axis":null},
    "y":{"field":"y","type":"quantitative","axis":null},
    "color":{"field":"c","type":"nominal","scale":{"domain":["r","y","yg","g","cy","p"],"range":["#e00f00","#ffd400","#aaee00","#94ee5c","#80f4fc","#a100f2"]},"legend":null}}},
  {"data":{"values":[{"x":0,"y":0}]},
   "mark":{"type":"point","opacity":0},
   "encoding":{
    "x":{"field":"x","type":"quantitative","axis":{"orient":"top","title":null,"labels":false,"values":[0,0.02,0.04,0.06,0.08,0.1,0.12,0.14,0.16,0.18,0.2,0.22,0.24,0.26,0.28,0.3,0.32,0.34,0.36,0.38,0.4,0.42,0.44,0.46,0.48,0.5,0.52,0.54,0.56,0.58,0.6,0.62,0.64,0.66,0.68,0.7],
      "tickSize":{"condition":{"test":"abs(datum.value*10-round(datum.value*10))<0.001","value":-7},"value":-4}}},
    "y":{"field":"y","type":"quantitative","axis":{"orient":"right","title":null,"labels":false,"values":[0,0.5,1,1.5,2,2.5,3,3.5,4,4.5,5,5.5,6,6.5,7,7.5,8,8.5,9,9.5,10,10.5,11,11.5,12,12.5],
      "tickSize":{"condition":{"test":"abs(datum.value/2-round(datum.value/2))<0.001","value":-7},"value":-4}}}}},
  {"data":{"values":[{}]},"mark":{"type":"text","align":"left","baseline":"alphabetic","fontSize":48,"font":"Liberation Sans","color":"#000000"},
   "encoding":{"x":{"datum":0.2366,"type":"quantitative","axis":null},"y":{"datum":9.63,"type":"quantitative","axis":null},"text":{"value":"Gauss, PBC"}}},
  {"data":{"values":[{}]},"mark":{"type":"text","align":"left","baseline":"alphabetic","fontSize":48,"font":"Liberation Sans","color":"#000000"},
   "encoding":{"x":{"datum":0.2366,"type":"quantitative","axis":null},"y":{"datum":7.47,"type":"quantitative","axis":null},"text":{"value":"varied"}}},
  {"data":{"values":[{}]},"mark":{"type":"text","align":"left","baseline":"alphabetic","fontSize":60,"font":"Liberation Serif","color":"#000000"},
   "encoding":{"x":{"datum":0.452,"type":"quantitative","axis":null},"y":{"datum":7.47,"type":"quantitative","axis":null},"text":{"value":"σ"}}}
 ],
 "resolve":{"axis":{"x":"independent","y":"independent"}}
}
],
"columns":1,
"spacing":10
}
